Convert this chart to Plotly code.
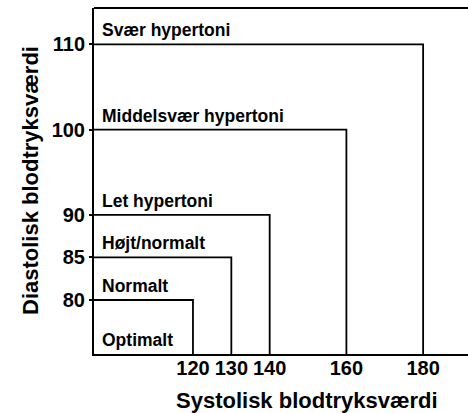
import plotly.graph_objects as go

categories = ["Normalt", "Højt/normalt", "Let hypertoni", "Middelsvær hypertoni", "Svær hypertoni"]
systolic = [120, 130, 140, 160, 180]
diastolic = [80, 85, 90, 100, 110]
base_label = "Optimalt"

x_ticks = [120, 130, 140, 160, 180]
y_ticks = [80, 85, 90, 100, 110]

x_min, x_max = 94.2, 191.7
y_min, y_max = 73.66, 114.27

FONT = "Liberation Sans, Arial, sans-serif"

W, H = 468, 413
L, R, T, B = 94, 0, 8, 59

fig = go.Figure()
for name, s, d in zip(categories, systolic, diastolic):
    fig.add_trace(go.Scatter(
        x=[x_min, s, s], y=[d, d, y_min], mode="lines",
        line=dict(color="black", width=1.8), name=name,
        showlegend=False, hoverinfo="skip", cliponaxis=False,
    ))

for name, d in zip([base_label] + categories, [y_min] + diastolic):
    fig.add_annotation(
        x=x_min, y=d, xref="x", yref="y", text="<b>%s</b>" % name,
        showarrow=False, xanchor="left", yanchor="middle",
        xshift=6, yshift=14,
        font=dict(family=FONT, size=17.5, color="black"),
    )

# top frame line
fig.add_shape(type="line", xref="paper", yref="paper", x0=0, x1=1, y0=1, y1=1,
              line=dict(color="black", width=2))

pw, ph = W - L - R, H - T - B
fig.add_annotation(
    x=(307 - L) / pw, y=-(400 - (H - B)) / ph, xref="paper", yref="paper",
    text="<b>Systolisk blodtryksværdi</b>", showarrow=False,
    xanchor="center", yanchor="middle",
    font=dict(family=FONT, size=22, color="black"),
)
fig.add_annotation(
    x=-(L - 30) / pw, y=1 - (181 - T) / ph, xref="paper", yref="paper",
    text="<b>Diastolisk blodtryksværdi</b>", showarrow=False, textangle=-90,
    xanchor="center", yanchor="middle",
    font=dict(family=FONT, size=22, color="black"),
)

fig.update_layout(
    width=W, height=H,
    margin=dict(l=L, r=R, t=T, b=B),
    paper_bgcolor="white", plot_bgcolor="white",
    showlegend=False,
    xaxis=dict(range=[x_min, x_max], tickvals=x_ticks,
               ticktext=["<b>%d</b>" % v for v in x_ticks],
               showgrid=False, zeroline=False, showline=True,
               linecolor="black", linewidth=2, ticks="", ticklen=0,
               ticklabelstandoff=-5,
               tickfont=dict(family=FONT, size=20, color="black")),
    yaxis=dict(range=[y_min, y_max], tickvals=y_ticks,
               ticktext=["<b>%d</b>" % v for v in y_ticks],
               showgrid=False, zeroline=False, showline=True,
               linecolor="black", linewidth=2, ticks="outside", ticklen=3,
               tickwidth=1.5, tickcolor="black",
               tickfont=dict(family=FONT, size=20, color="black")),
)

fig.write_html("out.html", config={"displayModeBar": False},
               post_script="document.body.style.margin='0';document.body.style.overflow='hidden';")
